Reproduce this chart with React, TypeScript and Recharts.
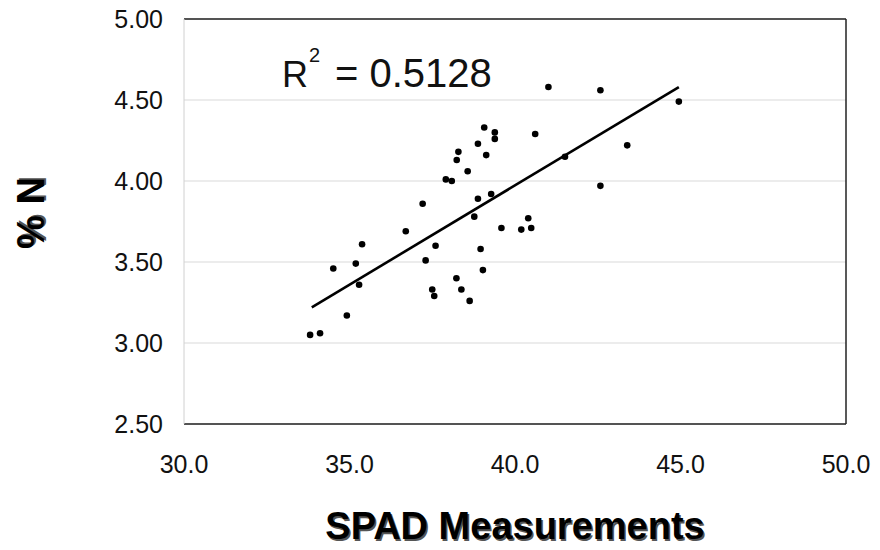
import { CartesianGrid, ReferenceLine, Scatter, ScatterChart, XAxis, YAxis } from "recharts";

const spad = [
  33.81, 34.11, 34.92, 34.51, 35.19, 35.29, 35.38, 36.7, 37.21, 37.3, 37.5, 37.56, 37.6, 37.91,
  38.09, 38.23, 38.24, 38.29, 38.38, 38.57, 38.63, 38.77, 38.88, 38.88, 38.96, 39.03, 39.07,
  39.13, 39.28, 39.39, 39.39, 39.59, 40.19, 40.4, 40.49, 40.61, 41.01, 41.51, 42.58, 42.58,
  43.39, 44.95,
];
const nitrogen = [
  3.05, 3.06, 3.17, 3.46, 3.49, 3.36, 3.61, 3.69, 3.86, 3.51, 3.33, 3.29, 3.6, 4.01, 4.0, 3.4,
  4.13, 4.18, 3.33, 4.06, 3.26, 3.78, 3.89, 4.23, 3.58, 3.45, 4.33, 4.16, 3.92, 4.3, 4.26, 3.71,
  3.7, 3.77, 3.71, 4.29, 4.58, 4.15, 4.56, 3.97, 4.22, 4.49,
];
const trendX = [33.86, 44.95];
const trendY = [3.22, 4.58];
const xTicks = [30, 35, 40, 45, 50];
const yTicks = [2.5, 3, 3.5, 4, 4.5, 5];

const points = spad.map((x, i) => ({ x, y: nitrogen[i] }));
const trend = trendX.map((x, i) => ({ x, y: trendY[i] }));

const FONT = "'Liberation Sans', Arial, sans-serif";

export default function App() {
  return (
    <div style={{ position: "absolute", left: 0, top: 0, width: 880, height: 550, background: "#fff", fontFamily: FONT }}>
      <ScatterChart width={880} height={550} margin={{ top: 19, right: 34, bottom: 0, left: 0 }}>
        <CartesianGrid vertical={false} stroke="#d9d9d9" />
        <XAxis
          type="number"
          dataKey="x"
          domain={[30, 50]}
          ticks={xTicks}
          tickFormatter={(v: number) => v.toFixed(1)}
          height={126}
          tickLine={false}
          tickSize={0}
          tickMargin={31}
          axisLine={{ stroke: "#222", strokeWidth: 1.5 }}
          tick={{ fill: "#111", fontSize: 25, fontFamily: FONT }}
        />
        <YAxis
          type="number"
          dataKey="y"
          domain={[2.5, 5]}
          ticks={yTicks}
          tickFormatter={(v: number) => v.toFixed(2)}
          width={184}
          tickLine={false}
          tickSize={0}
          tickMargin={21}
          axisLine={{ stroke: "#d0d0d0" }}
          tick={{ fill: "#111", fontSize: 25, fontFamily: FONT }}
        />
        <ReferenceLine y={5} stroke="#222" strokeWidth={1.5} />
        <ReferenceLine x={50} stroke="#222" strokeWidth={1.5} />
        <Scatter data={points} fill="#000" isAnimationActive={false} shape={(p: any) => <circle cx={p.cx} cy={p.cy} r={3.3} fill="#000" />} />
        <Scatter
          data={trend}
          line={{ stroke: "#000", strokeWidth: 2.6 }}
          shape={() => <g />}
          isAnimationActive={false}
        />
      </ScatterChart>
      <svg width={880} height={550} style={{ position: "absolute", left: 0, top: 0, pointerEvents: "none" }}>
        {/* R² label as one text so the superscript stays attached */}
        <text x={282} y={87} fontSize={36} fontFamily={FONT} fill="#111">
          R
          <tspan fontSize={20} dx={1} dy={-25}>2</tspan>
          <tspan fontSize={40} x={335} dy={25}>= 0.5128</tspan>
        </text>
        <g fontFamily={FONT} fontWeight="bold" fontSize={38} textAnchor="middle">
          <text x={516.5} y={540.5} fill="#555">SPAD Measurements</text>
          <text x={515} y={539} fill="#000">SPAD Measurements</text>
          <text transform="translate(44,213) rotate(-90)" x={1.5} y={1.5} fill="#555">% N</text>
          <text transform="translate(44,213) rotate(-90)" fill="#000">% N</text>
        </g>
      </svg>
    </div>
  );
}
